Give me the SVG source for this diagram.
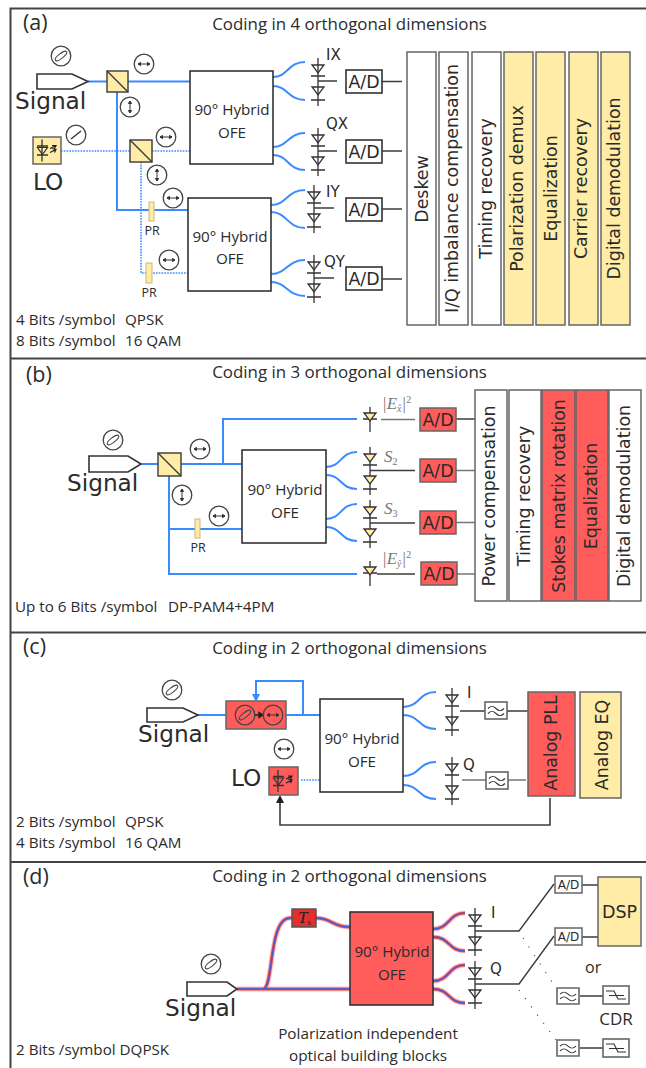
<svg xmlns="http://www.w3.org/2000/svg" width="646" height="1068" viewBox="0 0 646 1068">
<style>
text{fill:#2b2b2b}
.os{font-family:"Open Sans","Liberation Sans",sans-serif}
.dv{font-family:"DejaVu Sans","Liberation Sans",sans-serif}
.title{font-size:16.9px;text-anchor:middle}
.note{font-size:15.2px}
.panel{font-size:21.5px}
.sig{font-size:23.2px}
.hy{font-size:15.2px;text-anchor:middle}
.ad{font-size:17.4px;text-anchor:middle}
.blk{font-size:17.4px;text-anchor:middle}
.lab{font-size:15px}
.pr{font-size:12.5px;text-anchor:middle}
.mth{font-family:"Liberation Serif",serif;font-size:17px;font-style:italic;fill:#777}
.frame{stroke:#444;stroke-width:2;fill:none}
.box{fill:#fff;stroke:#333;stroke-width:1.6}
.boxg{stroke:#666;stroke-width:1.5}
.y{fill:#ffeca6}.r{fill:#ff5c5c}.w{fill:#fff}
.o{fill:none;stroke:#3a8bff;stroke-width:2}
.od{fill:none;stroke:#3a8bff;stroke-width:1.6;stroke-dasharray:1.6 1.2}
.e{fill:none;stroke:#3c3c3c;stroke-width:1.4}
.eg{fill:none;stroke:#777;stroke-width:1.6}
.sym{fill:none;stroke:#333;stroke-width:1.3}
.pol{fill:#fff;stroke:#444;stroke-width:1.3}
.g1{fill:none;stroke:#ffc4c4;stroke-width:5}
.g2{fill:none;stroke:#f04848;stroke-width:3}
.g3{fill:none;stroke:#3a5fe0;stroke-width:1.4}
</style>
<defs>
<g id="dp"><path class="sym" d="M0 -23V-5M-7 -5H7M0 -5V19M-7 19H7M0 19V25"/><path class="sym" d="M-6 -16H6L0 -8zM-6 6H6L0 14z"/></g>
<g id="dpy"><path class="sym" d="M0 -23V-5M-7 -5H7M0 -5V19M-7 19H7M0 19V25"/><path d="M-6 -16H6L0 -8zM-6 6H6L0 14z" fill="#ffeca6" stroke="#333" stroke-width="1.3"/></g>
<g id="ds"><path class="sym" d="M0 -13V-4M-7 -1H7M0 -1V12"/><path d="M-6 -7H6L0 1z" fill="#ffeca6" stroke="#333" stroke-width="1.3"/></g>
<g id="ph"><circle class="pol" r="9.8"/><path d="M-6 0H6M-6 0L-3.5 -1.6V1.6zM6 0L3.5 -1.6V1.6z" fill="#333" stroke="#333" stroke-width="1"/></g>
<g id="pv"><circle class="pol" r="9.8"/><path d="M0 -6V6M0 -6L-1.6 -3.5H1.6zM0 6L-1.6 3.5H1.6z" fill="#333" stroke="#333" stroke-width="1"/></g>
<g id="pt"><circle class="pol" r="9.8" style="fill:none"/><ellipse rx="7" ry="2.4" transform="rotate(-38)" fill="none" stroke="#444" stroke-width="1.1"/></g>
<g id="pl"><circle class="pol" r="9.8"/><path d="M-5 4L5 -4" stroke="#333" stroke-width="1.5"/></g>
<g id="laser"><path class="sym" d="M-5 -11V11M-10 -4.500H1M-10 4.500H1"/><path d="M-9.500 -3H0.500L-4.500 4z" fill="none" stroke="#333" stroke-width="1.2"/><path d="M3 -2L9 -5M3 2L9 -1M5 -5L9 -5L7.500 -2M5 -2L9 -1L7.500 2" fill="none" stroke="#222" stroke-width="1.2"/></g>
<g id="flt"><rect x="0" y="0" width="22" height="17" fill="#fff" stroke="#666" stroke-width="1.6"/><path d="M3 6.500C6 3.500 8 3.500 11 6.500S16 9.500 19 6.500M3 11.500C6 8.500 8 8.500 11 11.500S16 14.500 19 11.500" fill="none" stroke="#333" stroke-width="1.1"/></g>
<g id="cdr"><rect x="0" y="0" width="26" height="18" fill="#fff" stroke="#666" stroke-width="1.6"/><path d="M3 5H11L15 13H23M6 9.500H21" fill="none" stroke="#333" stroke-width="1.1"/></g>
</defs>
<rect width="646" height="1068" fill="#fff"/>

<g id="frame">
<path class="frame" d="M10.500 1068V8.500H646M10.500 358.500H646M10.500 632.500H646M10.500 862H646"/>
</g>

<g id="connectors">
<path class="o" d="M88 81.500H107M128 81.500H190M117 92V210H188M273 77C288 77 288 62 305 62M273 86C288 86 288 100 305 100M273 147C288 147 288 133 305 133M273 155C288 155 288 170 305 170M271 205C287 205 287 190 305 190M271 212C287 212 287 228 305 228M271 274C287 274 287 260 305 260M271 282C287 282 287 296 305 296"/>
<path class="od" d="M61 151H130M152 151H190M141 162V273H188"/>
<path class="e" d="M318 81H337M382 81.500H402M318 151H337M382 151H402M314 208H334M382 209H402M314 278H334M382 279H402"/>
<path class="o" d="M141 464H158M181 464H242M223 464V419H357M169 476V574H357M169 529H242M326 467C342 467 340 452 357 452M326 475C342 475 340 489 357 489M326 519C342 519 340 504 357 504M326 527C342 527 340 541 357 541"/>
<path class="eg" d="M381 419.500H415M456 470.500H475M456 522.500H475M456 574H476"/>
<path class="e" d="M370 470.500H415M370 523H415M377 574H415M456 419H475"/>
<path class="o" d="M198 715H226M286 715H320M303 715V681H256V696"/>
<path d="M252 694H260L256 702z" fill="#3a8bff"/>
<path class="od" d="M301 780H320"/>
<path class="o" d="M403 707C420 707 418 692 436 692M403 715C420 715 418 729 436 729M403 776C420 776 418 762 436 762M403 785C420 785 418 799 436 799"/>
<path class="e" d="M460 711H485M507 711H528"/>
<path class="eg" d="M462 780H486M508 780H526"/>
<path class="e" d="M550 798V825H280V802" style="stroke-width:1.6"/>
<path d="M276 803L280 795L284 803z" fill="#1f1f1f"/>
<path class="g1" d="M237 989H350M263 989C274 989 268 918 290 918H292M316 918C332 918 332 927 350 927M433 929C450 929 448 913 465 913M433 937C450 937 448 951 465 951M433 981C450 981 448 965 465 965M433 989C450 989 448 1003 465 1003"/>
<path class="g2" d="M237 989H350M263 989C274 989 268 918 290 918H292M316 918C332 918 332 927 350 927M433 929C450 929 448 913 465 913M433 937C450 937 448 951 465 951M433 981C450 981 448 965 465 965M433 989C450 989 448 1003 465 1003"/>
<path class="g3" d="M237 989H350M263 989C274 989 268 918 290 918H292M316 918C332 918 332 927 350 927M433 929C450 929 448 913 465 913M433 937C450 937 448 951 465 951M433 981C450 981 448 965 465 965M433 989C450 989 448 1003 465 1003"/>
<path class="e" d="M475 931H519L554 884M475 984H519L554 936M582 885H598M582 937H598M580 996H603M580 1048H603"/>
<path d="M523 938L556 988M519 990L556 1040" fill="none" stroke="#555" stroke-width="1.2" stroke-dasharray="1.2 9"/>
</g>

<g id="panel-a">
<text class="os panel" x="23" y="30">(a)</text>
<text class="os title" x="349.500" y="30">Coding in 4 orthogonal dimensions</text>
<g id="a-signal"><path class="box" d="M37 74H72L88 81.500L72 89H37z"/><text class="dv sig" x="15" y="109">Signal</text><use href="#pt" x="61" y="56"/></g>
<g id="a-lo"><rect class="y boxg" x="33" y="137" width="28" height="27"/><use href="#laser" x="47" y="150.500"/><text class="dv sig" x="33" y="190">LO</text><use href="#pl" x="76" y="135"/></g>
<g id="a-pbs1"><rect class="y" x="107" y="71" width="21" height="21" stroke="#444" stroke-width="1.5"/><path d="M107 71L128 92" class="e"/><use href="#ph" x="144" y="64"/><use href="#pv" x="130" y="107"/></g>
<g id="a-pbs2"><rect class="y" x="130" y="140" width="22" height="22" stroke="#444" stroke-width="1.5"/><path d="M130 140L152 162" class="e"/><use href="#ph" x="166" y="137"/><use href="#pv" x="157" y="175"/></g>
<g id="a-pr1"><rect class="y" x="149" y="202" width="5" height="19" stroke="#cbb878"/><text class="os pr" x="152" y="235">PR</text><use href="#ph" x="173" y="198"/></g>
<g id="a-pr2"><rect class="y" x="146" y="263" width="6" height="20" stroke="#cbb878"/><text class="os pr" x="149" y="297">PR</text><use href="#ph" x="169" y="260"/></g>
<g id="a-hy1"><rect class="box" x="190" y="71" width="83" height="93"/><text class="os hy" x="232" y="115">90° Hybrid</text><text class="os hy" x="232" y="138">OFE</text></g>
<g id="a-hy2"><rect class="box" x="188" y="198" width="83" height="93"/><text class="os hy" x="230" y="242">90° Hybrid</text><text class="os hy" x="230" y="264">OFE</text></g>
<g id="a-dx"><use href="#dp" x="318" y="81"/><text class="dv lab" x="326" y="60">IX</text></g>
<g id="a-dqx"><use href="#dp" x="318" y="151"/><text class="dv lab" x="326" y="129">QX</text></g>
<g id="a-dy"><use href="#dp" x="314" y="208"/><text class="dv lab" x="326" y="197">IY</text></g>
<g id="a-dqy"><use href="#dp" x="314" y="278"/><text class="dv lab" x="324" y="267">QY</text></g>
<g id="a-ad1"><rect class="box" x="346" y="70" width="36" height="23"/><text class="dv ad" x="364" y="88">A/D</text></g>
<g id="a-ad2"><rect class="box" x="346" y="140" width="36" height="23"/><text class="dv ad" x="364" y="158">A/D</text></g>
<g id="a-ad3"><rect class="box" x="346" y="198" width="36" height="23"/><text class="dv ad" x="364" y="216">A/D</text></g>
<g id="a-ad4"><rect class="box" x="346" y="267" width="36" height="23"/><text class="dv ad" x="364" y="285">A/D</text></g>
<g id="a-blocks">
<g id="a-b1"><rect class="w boxg" x="407" y="52" width="29" height="273"/><text class="dv blk" transform="translate(428 189) rotate(-90)">Deskew</text></g>
<g id="a-b2"><rect class="w boxg" x="439" y="52" width="29" height="273"/><text class="dv blk" transform="translate(458 188.500) rotate(-90)">I/Q imbalance compensation</text></g>
<g id="a-b3"><rect class="w boxg" x="472" y="52" width="29" height="273"/><text class="dv blk" transform="translate(492 188.500) rotate(-90)">Timing recovery</text></g>
<g id="a-b4"><rect class="y boxg" x="504" y="52" width="29" height="273"/><text class="dv blk" transform="translate(523 188.500) rotate(-90)">Polarization demux</text></g>
<g id="a-b5"><rect class="y boxg" x="536" y="52" width="29" height="273"/><text class="dv blk" transform="translate(557 188.500) rotate(-90)">Equalization</text></g>
<g id="a-b6"><rect class="y boxg" x="569" y="52" width="29" height="273"/><text class="dv blk" transform="translate(587 188.500) rotate(-90)">Carrier recovery</text></g>
<g id="a-b7"><rect class="y boxg" x="601" y="52" width="29" height="273"/><text class="dv blk" transform="translate(620 188.500) rotate(-90)">Digital demodulation</text></g>
</g>
<text class="os note" x="16" y="325">4 Bits /symbol<tspan x="125">QPSK</tspan></text>
<text class="os note" x="16" y="346">8 Bits /symbol<tspan x="125">16 QAM</tspan></text>
</g>

<g id="panel-b">
<text class="os panel" x="26" y="382">(b)</text>
<text class="os title" x="349.500" y="378">Coding in 3 orthogonal dimensions</text>
<g id="b-signal"><path class="box" d="M89 456H128L141 464L128 472H89z"/><text class="dv sig" x="67" y="491">Signal</text><use href="#pt" x="113" y="440"/></g>
<g id="b-pbs"><rect class="y" x="158" y="453" width="23" height="23" stroke="#444" stroke-width="1.5"/><path d="M158 453L181 476" class="e"/><use href="#ph" x="200" y="449"/><use href="#pv" x="182" y="495"/></g>
<g id="b-pr"><rect class="y" x="195" y="519" width="5" height="19" stroke="#cbb878"/><text class="os pr" x="198" y="552">PR</text><use href="#ph" x="219" y="516"/></g>
<g id="b-hy"><rect class="box" x="242" y="450" width="84" height="93"/><text class="os hy" x="285" y="495">90° Hybrid</text><text class="os hy" x="285" y="518">OFE</text></g>
<g id="b-d1"><use href="#ds" x="370" y="420"/><text class="mth" x="382" y="409">|E<tspan font-size="10" dy="3">x̂</tspan><tspan dy="-3">|</tspan><tspan font-size="10" font-style="normal" dy="-6">2</tspan></text></g>
<g id="b-d2"><use href="#dpy" x="370" y="470"/><text class="mth" x="384" y="462">S<tspan font-size="10" font-style="normal" dy="3">2</tspan></text></g>
<g id="b-d3"><use href="#dpy" x="370" y="523"/><text class="mth" x="384" y="514">S<tspan font-size="10" font-style="normal" dy="3">3</tspan></text></g>
<g id="b-d4"><use href="#ds" x="370" y="574"/><text class="mth" x="382" y="564">|E<tspan font-size="10" dy="3">ŷ</tspan><tspan dy="-3">|</tspan><tspan font-size="10" font-style="normal" dy="-6">2</tspan></text></g>
<g id="b-ad1"><rect class="r boxg" x="420" y="408" width="36" height="23"/><text class="dv ad" x="438" y="426">A/D</text></g>
<g id="b-ad2"><rect class="r boxg" x="420" y="459" width="36" height="23"/><text class="dv ad" x="438" y="477">A/D</text></g>
<g id="b-ad3"><rect class="r boxg" x="420" y="511" width="36" height="23"/><text class="dv ad" x="438" y="529">A/D</text></g>
<g id="b-ad4"><rect class="r boxg" x="421" y="562" width="36" height="23"/><text class="dv ad" x="439" y="580">A/D</text></g>
<g id="b-blocks">
<g id="b-b1"><rect class="w boxg" x="475" y="390" width="32" height="211"/><text class="dv blk" transform="translate(495 496) rotate(-90)">Power compensation</text></g>
<g id="b-b2"><rect class="w boxg" x="509" y="390" width="32" height="211"/><text class="dv blk" transform="translate(530 496) rotate(-90)">Timing recovery</text></g>
<g id="b-b3"><rect class="r boxg" x="542" y="390" width="33" height="211"/><text class="dv blk" transform="translate(565 496) rotate(-90)">Stokes matrix rotation</text></g>
<g id="b-b4"><rect class="r boxg" x="576" y="390" width="32" height="211"/><text class="dv blk" transform="translate(597 496) rotate(-90)">Equalization</text></g>
<g id="b-b5"><rect class="w boxg" x="609" y="390" width="32" height="211"/><text class="dv blk" transform="translate(630 496) rotate(-90)">Digital demodulation</text></g>
</g>
<text class="os note" x="15" y="612">Up to 6 Bits /symbol<tspan x="168">DP-PAM4+4PM</tspan></text>
</g>

<g id="panel-c">
<text class="os panel" x="23" y="654">(c)</text>
<text class="os title" x="349.500" y="654">Coding in 2 orthogonal dimensions</text>
<g id="c-signal"><path class="box" d="M147 708H183L198 715L183 722H147z"/><text class="dv sig" x="138" y="742">Signal</text><use href="#pt" x="172" y="690"/></g>
<g id="c-ctrl"><rect class="r boxg" x="226" y="701" width="60" height="28"/><use href="#pt" x="245" y="715"/><path d="M255 715H263M263 715L259 712.500V717.500z" fill="#222" stroke="#222" stroke-width="1.500"/><circle cx="273" cy="715" r="9.800" fill="none" stroke="#444" stroke-width="1.300"/><path d="M267 715H279M267 715L269.500 713.400V716.600zM279 715L276.500 713.400V716.600z" fill="#333" stroke="#333"/></g>
<g id="c-lo"><rect class="r boxg" x="269" y="767" width="29" height="28"/><use href="#laser" x="283" y="781"/><text class="dv sig" x="231" y="786">LO</text><use href="#ph" x="284" y="749"/></g>
<g id="c-hy"><rect class="box" x="320" y="699" width="83" height="93"/><text class="os hy" x="362" y="744">90° Hybrid</text><text class="os hy" x="362" y="767">OFE</text></g>
<g id="c-di"><use href="#dp" x="452" y="711"/><text class="dv lab" x="467" y="698">I</text></g>
<g id="c-dq"><use href="#dp" x="452" y="780"/><text class="dv lab" x="463" y="770">Q</text></g>
<g id="c-f1"><use href="#flt" x="485" y="702"/></g>
<g id="c-f2"><use href="#flt" x="486" y="772"/></g>
<g id="c-pll"><rect class="r boxg" x="528" y="692" width="47" height="104"/><text class="dv blk" transform="translate(557 743) rotate(-90)">Analog PLL</text></g>
<g id="c-eq"><rect class="y boxg" x="580" y="692" width="41" height="106"/><text class="dv blk" transform="translate(608 745) rotate(-90)">Analog EQ</text></g>
<text class="os note" x="16" y="827">2 Bits /symbol<tspan x="125">QPSK</tspan></text>
<text class="os note" x="16" y="848">4 Bits /symbol<tspan x="125">16 QAM</tspan></text>
</g>

<g id="panel-d">
<text class="os panel" x="23" y="884">(d)</text>
<text class="os title" x="349.500" y="882">Coding in 2 orthogonal dimensions</text>
<g id="d-signal"><path class="box" d="M187 982H227L237 989L227 996H187z"/><text class="dv sig" x="165" y="1016">Signal</text><use href="#pt" x="211" y="964"/></g>
<g id="d-ts"><rect x="292" y="909" width="24" height="18" fill="#e62e2e" stroke="#555" stroke-width="1.5"/><text class="mth" x="298" y="923" style="fill:#222">T<tspan font-size="9" font-style="normal" dy="2">s</tspan></text></g>
<g id="d-hy"><rect class="r" x="350" y="912" width="83" height="93" stroke="#333" stroke-width="1.6"/><text class="os hy" x="392" y="957">90° Hybrid</text><text class="os hy" x="392" y="980">OFE</text></g>
<g id="d-di"><use href="#dp" x="475" y="931"/><text class="dv lab" x="491" y="918">I</text></g>
<g id="d-dq"><use href="#dp" x="475" y="984"/><text class="dv lab" x="490" y="974">Q</text></g>
<g id="d-ad1"><rect class="w boxg" x="555" y="876" width="27" height="17"/><text class="dv" font-size="12" text-anchor="middle" x="568.500" y="889">A/D</text></g>
<g id="d-ad2"><rect class="w boxg" x="555" y="928" width="27" height="17"/><text class="dv" font-size="12" text-anchor="middle" x="568.500" y="941">A/D</text></g>
<g id="d-dsp"><rect class="y boxg" x="598" y="877" width="43" height="69"/><text class="dv" font-size="17.500" text-anchor="middle" x="619.500" y="918">DSP</text></g>
<text class="os" font-size="16" x="585" y="973">or</text>
<g id="d-f1"><use href="#flt" transform="translate(557 988) scale(1 .94)"/><use href="#cdr" x="603" y="986"/></g>
<g id="d-f2"><use href="#flt" transform="translate(557 1040) scale(1 .94)"/><use href="#cdr" x="603" y="1039"/></g>
<text class="os" font-size="17" text-anchor="middle" x="616" y="1025">CDR</text>
<text class="os" font-size="15.300" text-anchor="middle" x="368" y="1039">Polarization independent</text>
<text class="os" font-size="15.300" text-anchor="middle" x="368" y="1061">optical building blocks</text>
<text class="os note" x="16" y="1055">2 Bits /symbol DQPSK</text>
</g>
</svg>
